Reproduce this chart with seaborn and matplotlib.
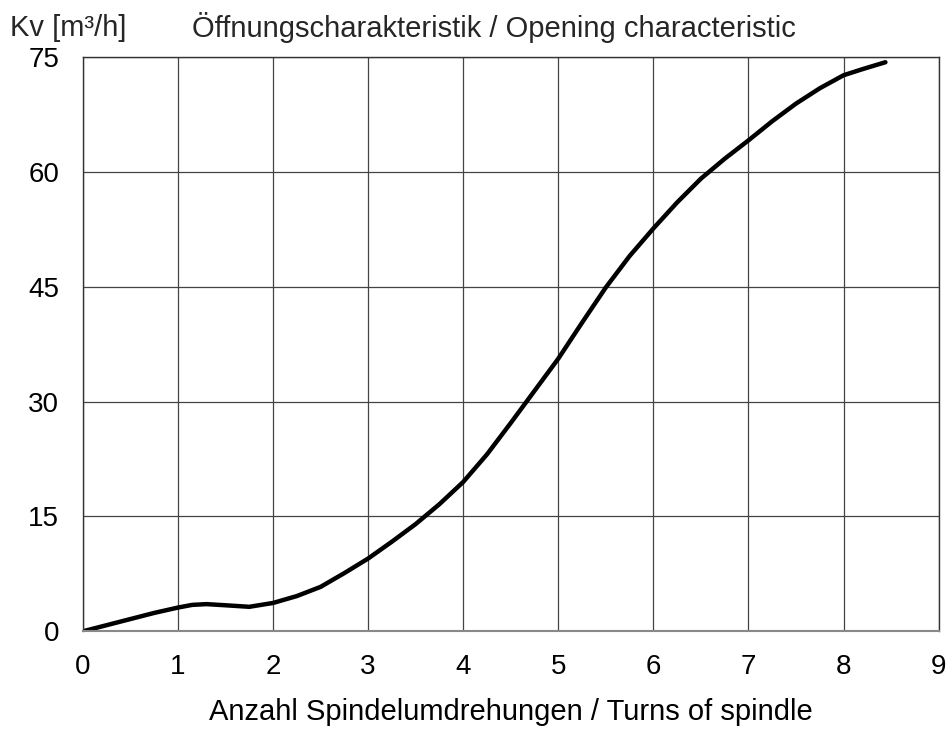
import matplotlib
matplotlib.use('Agg')
import matplotlib.pyplot as plt
import seaborn as sns
import pandas as pd

# Daten
turns = [0, 0.25, 0.5, 0.75, 1, 1.15, 1.3, 1.5, 1.75, 2, 2.25, 2.5, 2.75, 3, 3.25,
         3.5, 3.75, 4, 4.25, 4.5, 4.75, 5, 5.25, 5.5, 5.75, 6, 6.25, 6.5, 6.75, 7,
         7.25, 7.5, 7.75, 8, 8.2, 8.44]
kv = [0, 0.8, 1.6, 2.4, 3.1, 3.45, 3.55, 3.4, 3.2, 3.7, 4.6, 5.8, 7.6, 9.5, 11.7,
      14.0, 16.6, 19.5, 23.1, 27.2, 31.4, 35.6, 40.3, 44.9, 49.0, 52.6, 56.0, 59.1, 61.7, 64.1,
      66.6, 68.9, 70.9, 72.6, 73.4, 74.3]
x_ticks = list(range(0, 10))
y_ticks = [0, 15, 30, 45, 60, 75]

df = pd.DataFrame({'turns': turns, 'kv': kv})

sns.set_style('white')
plt.rcParams['font.family'] = ['Liberation Sans', 'DejaVu Sans']

fig = plt.figure(figsize=(9.52, 7.29), dpi=100)
ax = fig.add_axes([0.087, 0.134, 0.899, 0.788])

sns.lineplot(data=df, x='turns', y='kv', color='black', linewidth=3.2, ax=ax)

ax.set_xlim(0, 9)
ax.set_ylim(0, 75)
ax.set_xticks(x_ticks)
ax.set_yticks(y_ticks)
ax.grid(True, color='#444444', linewidth=0.9)
for s in ax.spines.values():
    s.set_color('#333333')
    s.set_linewidth(1.0)
ax.spines['bottom'].set_color('#888888')
ax.spines['bottom'].set_linewidth(1.5)
ax.tick_params(axis='both', direction='out', length=6, width=1, color='#444444',
               labelsize=20, labelcolor='black')
ax.tick_params(axis='x', pad=10)
ax.tick_params(axis='y', pad=11)
ax.set_xlabel('Anzahl Spindelumdrehungen / Turns of spindle', fontsize=21,
              labelpad=13, color='black')
ax.set_ylabel('')
fig.text(0.01, 0.962, 'Kv [m³/h]', fontsize=21, ha='left', va='center')
fig.text(0.202, 0.962, 'Öffnungscharakteristik / Opening characteristic', fontsize=21,
         ha='left', va='center')

plt.savefig('out.png', dpi=100)
